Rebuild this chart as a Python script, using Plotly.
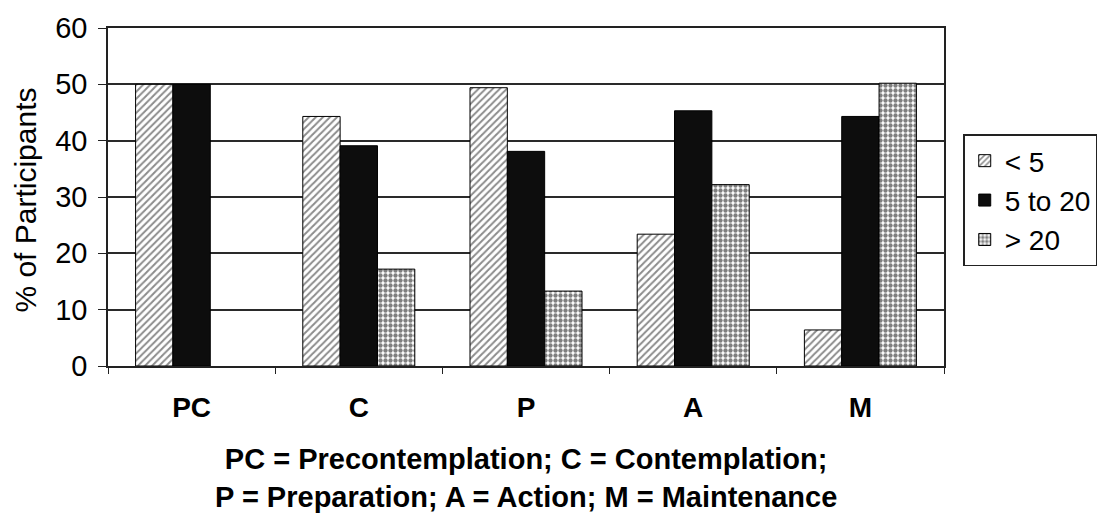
import plotly.graph_objects as go

# Stages of change and share of participants per exposure group
stages = ["PC", "C", "P", "A", "M"]
under_5 = [50.0, 44.3, 49.4, 23.4, 6.4]
from_5_to_20 = [50.0, 39.1, 38.1, 45.3, 44.3]
over_20 = [None, 17.2, 13.3, 32.2, 50.2]
series_names = ["< 5", "5 to 20", "> 20"]
y_ticks = [0, 10, 20, 30, 40, 50, 60]
footnote = ("PC = Precontemplation; C = Contemplation;<br>"
            "P = Preparation; A = Action; M = Maintenance")

FONT = "Liberation Sans, Arial, sans-serif"

fig = go.Figure()
fig.add_trace(go.Bar(
    name=series_names[0], x=stages, y=under_5,
    marker=dict(color="white", line=dict(color="black", width=1),
                pattern=dict(shape="/", fgcolor="#1a1a1a", bgcolor="white",
                             size=5, solidity=0.4, fillmode="overlay")),
))
fig.add_trace(go.Bar(
    name=series_names[1], x=stages, y=from_5_to_20,
    marker=dict(color="#0d0d0d", line=dict(color="black", width=1)),
))
fig.add_trace(go.Bar(
    name=series_names[2], x=stages, y=over_20,
    marker=dict(color="white", line=dict(color="black", width=1),
                pattern=dict(shape=".", fgcolor="#000", bgcolor="white",
                             size=5, solidity=0.6, fillmode="overlay")),
))

fig.update_layout(
    width=1109, height=515,
    margin=dict(l=108, r=163, t=18, b=149),
    paper_bgcolor="white", plot_bgcolor="white",
    barmode="group", bargap=0.33, bargroupgap=0,
    font=dict(family=FONT, size=28, color="black"),
    showlegend=True,
    legend=dict(x=1.023, y=0.685, xanchor="left", yanchor="top",
                bordercolor="#222", borderwidth=1.5, bgcolor="white",
                font=dict(size=28), itemwidth=30, tracegroupgap=0),
)
fig.update_xaxes(
    showline=True, linecolor="#222", linewidth=1.5, mirror=True,
    ticks="outside", tickson="boundaries", ticklen=6, tickcolor="#222",
    tickfont=dict(family=FONT, size=28, color="black", weight="bold"),
    ticklabelstandoff=16,
    showgrid=False,
)
fig.update_yaxes(
    range=[0, 60], tickvals=y_ticks,
    showline=True, linecolor="#222", linewidth=1.5, mirror=True,
    ticks="outside", ticklen=8, tickcolor="#222",
    showgrid=True, gridcolor="#2a2a2a", gridwidth=1.6,
    tickfont=dict(family=FONT, size=29, color="black"),
    ticklabelstandoff=5,
    zeroline=False,
)

fig.add_annotation(
    text="% of Participants", textangle=-90,
    xref="paper", yref="paper", x=-0.099, y=0.49,
    xanchor="center", yanchor="middle", showarrow=False,
    font=dict(family=FONT, size=30, color="black"),
)
fig.add_annotation(
    text=footnote, xref="paper", yref="paper", x=0.5, y=-0.33,
    xanchor="center", yanchor="middle", showarrow=False,
    font=dict(family=FONT, size=29, color="black", weight="bold"),
)

fig.write_html("out.html")
